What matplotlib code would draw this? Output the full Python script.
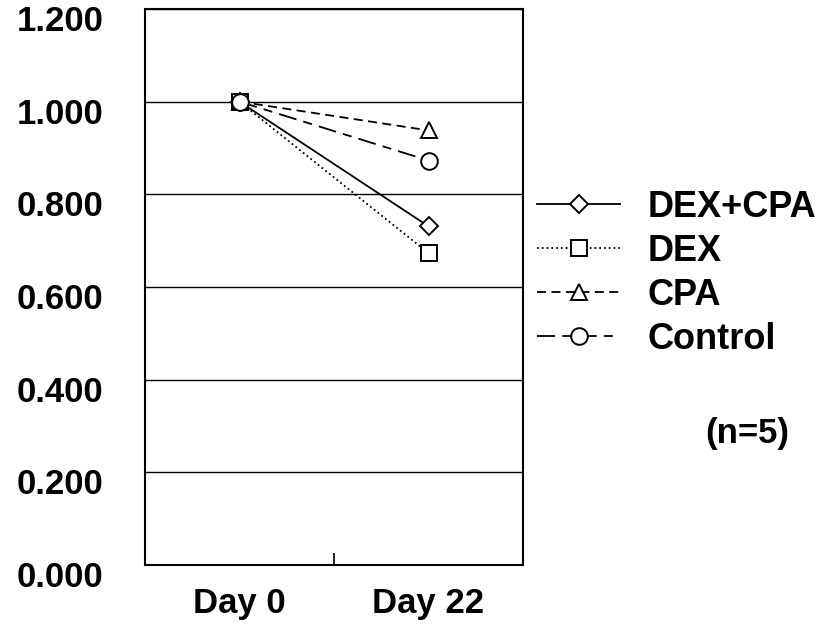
import matplotlib
matplotlib.use("Agg")
import matplotlib.pyplot as plt
import matplotlib.transforms as mtransforms

# mean ratio relative to Day 0 for each group
days = ["Day 0", "Day 22"]
dex_cpa = [1.0, 0.731]
dex = [1.0, 0.673]
cpa = [1.0, 0.938]
control = [1.0, 0.873]
y_ticks = [0.0, 0.2, 0.4, 0.6, 0.8, 1.0, 1.2]

plt.rcParams["font.family"] = ["Liberation Sans", "DejaVu Sans"]
plt.rcParams["font.weight"] = "bold"

fig = plt.figure(figsize=(8.4, 6.28), dpi=100)
ax = fig.add_axes([145 / 840, 1 - 565 / 628, 378 / 840, 556 / 628])

x = list(range(len(days)))
mk = dict(color="black", markerfacecolor="white", markeredgecolor="black",
          markersize=12, markeredgewidth=1.4, linewidth=1.3)
ax.plot(x, dex_cpa, linestyle="-", marker="D", label="DEX+CPA",
        **{**mk, "markersize": 9})
ax.plot(x, dex, linestyle=":", marker="s", label="DEX", **mk)
ax.plot(x, cpa, linestyle=(0, (5, 3)), marker="^", label="CPA", **mk)
ax.plot(x, control, linestyle=(0, (10, 4, 5, 4)), marker="o", label="Control", **mk)

ax.set_xlim(-0.5, 1.5)
ax.set_ylim(0, 1.2)
ax.set_yticks(y_ticks)
ax.set_yticklabels(["%.3f" % v for v in y_ticks])
ax.yaxis.grid(True, color="black", linewidth=1.0)
ax.set_axisbelow(True)
ax.tick_params(axis="y", length=0, pad=30, labelsize=25)

# scanned labels sit a little below their gridlines
shift = mtransforms.ScaledTranslation(0, -0.09, fig.dpi_scale_trans)
for lab in ax.get_yticklabels():
    lab.set_transform(lab.get_transform() + shift)

ax.set_xticks(x)
ax.set_xticklabels(days)
ax.tick_params(axis="x", length=0, pad=16, labelsize=25)
ax.set_xticks([0.5], minor=True)
ax.tick_params(axis="x", which="minor", direction="in", length=9, width=1.2)

for s in ax.spines.values():
    s.set_linewidth(1.5)

leg = ax.legend(loc="upper left", bbox_to_anchor=(537 / 840, 1 - 190 / 628),
                bbox_transform=fig.transFigure, frameon=False, fontsize=26,
                handlelength=2.3, handletextpad=0.75, labelspacing=0.25,
                borderpad=0, borderaxespad=0)

fig.text(747 / 840, 1 - 433 / 628, "(n=5)", ha="center", va="center",
         fontsize=25, fontweight="bold")

fig.savefig("out.png", dpi=100)
